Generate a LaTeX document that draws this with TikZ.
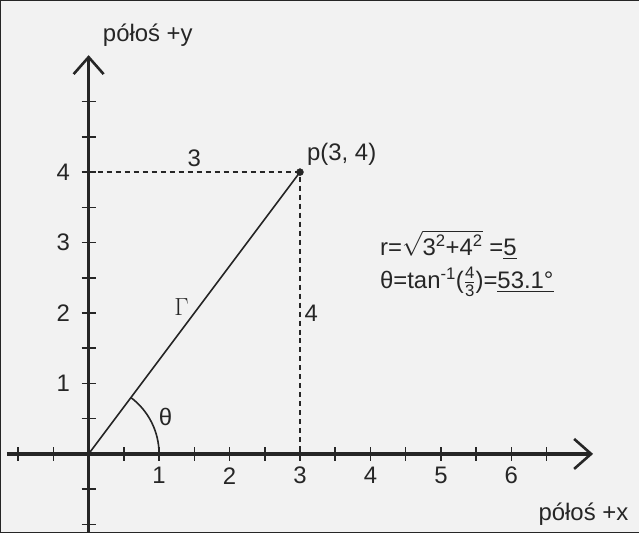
\documentclass[tikz,border=0pt]{standalone}
\usepackage{amsmath}
\usepackage{fontspec}
\setmainfont{Liberation Sans}
\usetikzlibrary{arrows.meta, positioning}

\begin{document}
\begin{tikzpicture}[
  x=70.5bp, y=70.5bp,
  axis/.style={line width=3.2bp, -{Straight Barb[length=17bp, width=30bp, line width=2.6bp]}},
  tickmark/.style={line width=1.6bp},
  guide/.style={line width=1.5bp, dash pattern=on 5bp off 4bp},
  vec/.style={line width=1.6bp},
  lbl/.style={font=\fontsize{24}{28}\selectfont, inner sep=1bp, text=black!85},
  every path/.style={draw=black!85}
]
\useasboundingbox[fill=black!5] (-1.255,-1.106) rectangle (7.809,6.44);

\coordinate (O) at (0,0);
\coordinate (P) at (3,4);
\coordinate (Py) at (0,4);
\coordinate (Px) at (3,0);
\coordinate (xl) at (-1.16,0);
\coordinate (xr) at (7.16,0);
\coordinate (yb) at (0,-1.2);
\coordinate (yt) at (0,5.66);
\coordinate (A) at (1,0);

% axes with ticks
\draw[axis] (xl) -- (xr);
\draw[axis] (yb) -- (yt);
\foreach \t in {-1,-0.5,0.5,1,...,6.5}
  \draw[tickmark] (\t,-0.1) -- (\t,0.1);
\foreach \t in {-1,-0.5,0.5,1,...,5}
  \draw[tickmark] (-0.1,\t) -- (0.1,\t);
\foreach \n in {1,...,6}
  \node[lbl] (x\n) at (\n,-0.31) {\n};
\foreach \n in {1,...,4}
  \node[lbl] (y\n) at (-0.36,\n) {\n};

\node[lbl] (ylab) at (0.84,5.94) {półoś +y};
\node[lbl, anchor=west] (xlab) at (6.37,-0.85) {półoś +x};

% vector and its components
\draw[guide] (Py) -- node[lbl, above=4bp] (c3) {3} (P)
  -- node[lbl, right=3bp] (c4) {4} (Px);
\draw[vec] (O) -- node[lbl, pos=0.52, left=8bp] (G) {\fontsize{26}{30}\selectfont$\Gamma$} (P);
\fill[black!85] (P) circle (3.5bp);
\node[lbl, above right=5bp and 6bp of P] (plbl) {p(3, 4)};

% angle
\draw[vec] (A) arc[start angle=0, end angle=53.13, radius=1];
\node[lbl] (th) at (25.5:1.21) {θ};

% results
\node[lbl, anchor=west] (rr) at (4.12,2.96)
  {r=\(\sqrt{\text{3\textsuperscript{2}+4\textsuperscript{2}}}\) =\underline{5}};
\node[lbl, anchor=west] (tt) at (4.12,2.44)
  {θ=tan\textsuperscript{-1}(\(\tfrac{\text{4}}{\text{3}}\))=\underline{53.1°}};
\end{tikzpicture}
\end{document}
